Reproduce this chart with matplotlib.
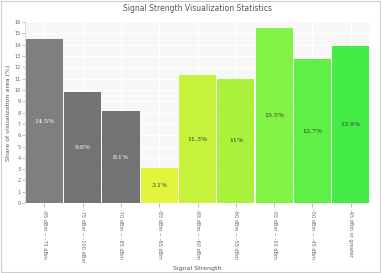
import matplotlib.pyplot as plt

# signal strength buckets and their share of the visualization area (%)
categories = ['-95 dBm ~ -75 dBm', '-75 dBm ~ -100 dBm', '-70 dBm ~ -85 dBm',
              '-85 dBm ~ -65 dBm', '-65 dBm ~ -60 dBm', '-60 dBm ~ -55 dBm',
              '-55 dBm ~ -50 dBm', '-50 dBm ~ -45 dBm', '-45 dBm or greater']
shares = [14.5, 9.8, 8.1, 3.1, 11.3, 11.0, 15.5, 12.7, 13.9]
labels = ['14.5%', '9.8%', '8.1%', '3.1%', '11.3%', '11%', '15.5%', '12.7%', '13.9%']
colors = ['#7f7f7f', '#737373', '#737373', '#e2f53c', '#c6f23c',
          '#a9f23c', '#82f244', '#5ef046', '#46ec46']
text_colors = ['white', 'white', 'white', '#333333', '#333333',
               '#333333', '#333333', '#333333', '#333333']

fig = plt.figure(figsize=(3.81, 2.73), dpi=100)
ax = fig.add_axes([0.066, 0.256, 0.905, 0.663])
ax.set_facecolor('#f7f7f7')

x = range(len(categories))
ax.bar(x, shares, width=0.97, color=colors, zorder=2)
for i, (v, lab) in enumerate(zip(shares, labels)):
    ax.text(i, v / 2, lab, ha='center', va='center', fontsize=4.5,
            color=text_colors[i], family='DejaVu Serif', zorder=3)

ax.set_xlim(-0.5, len(categories) - 0.5)
ax.set_ylim(0, 16)
ax.set_yticks(range(0, 17))
ax.tick_params(axis='y', labelsize=3.5, length=2, width=0.4, colors='#888888', labelcolor='#666666', pad=1)
ax.set_xticks(list(x))
ax.set_xticklabels(categories, rotation=-90, fontsize=3.6, color='#666666')
ax.tick_params(axis='x', length=3, width=0.4, colors='#888888', labelcolor='#666666', pad=1)
ax.grid(True, color='white', linewidth=0.8, zorder=0)
for s in ax.spines.values():
    s.set_visible(False)
ax.spines['left'].set_visible(True)
ax.spines['left'].set_color('#cccccc')
ax.spines['left'].set_linewidth(0.5)

ax.set_title('Signal Strength Visualization Statistics', fontsize=5.5, color='#555555', pad=8)
ax.set_ylabel('Share of visualization area (%)', fontsize=4.5, color='#555555', labelpad=3)
ax.set_xlabel('Signal Strength', fontsize=4.5, color='#555555', labelpad=3)

# thin frame around the whole image
fig.patches.append(plt.Rectangle((0.002, 0.002), 0.996, 0.996, transform=fig.transFigure,
                                 fill=False, edgecolor='#cccccc', linewidth=0.8))

fig.savefig('out.png', dpi=100)
